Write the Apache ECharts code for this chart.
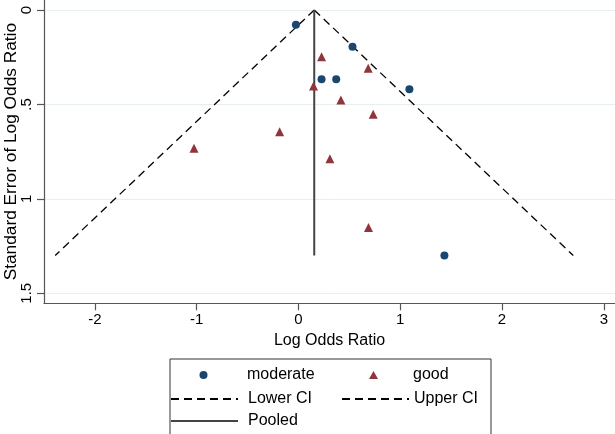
<!DOCTYPE html>
<html>
<head>
<meta charset="utf-8">
<script src="https://cdn.jsdelivr.net/npm/echarts@6/dist/echarts.min.js"></script>
<style>html,body{margin:0;padding:0;background:#fff;}#c{width:615px;height:434px;}</style>
</head>
<body>
<div id="c"></div>
<script>
// Data
var moderateLogOR = [-0.025, 0.531, 0.227, 0.371, 1.09, 1.434];
var moderateSE    = [0.078, 0.194, 0.367, 0.367, 0.42, 1.30];
var goodLogOR = [0.227, 0.685, 0.148, 0.417, 0.734, 0.309, 0.688, -0.185, -1.026];
var goodSE    = [0.247, 0.309, 0.402, 0.476, 0.552, 0.787, 1.152, 0.644, 0.732];
var pooledEstimate = 0.155;
var maxSE = 1.3;
var lowerCIEnd = -2.39;
var upperCIEnd = 2.70;
var xTicks = [-2, -1, 0, 1, 2, 3];
var yTicks = [0, 0.5, 1, 1.5];

function zip(a, b) { return a.map(function (v, i) { return [v, b[i]]; }); }

var FONT = '"Liberation Sans", Arial, Helvetica, sans-serif';
var chart = echarts.init(document.getElementById('c'), null, {renderer: 'canvas'});

function legendItem(item, left, top, iconW, iconH, textPad) {
  return {
    data: [item], left: left, top: top, padding: 0, itemWidth: iconW, itemHeight: iconH,
    selectedMode: false, orient: 'horizontal', symbolKeepAspect: true,
    textStyle: {fontFamily: FONT, fontSize: 16, color: '#000', padding: [0, 0, 0, textPad]}
  };
}
var hideSym = {opacity: 0, borderWidth: 0};

chart.setOption({
  animation: false,
  backgroundColor: '#fff',
  grid: {left: 44, right: 0, top: 0, bottom: 130.7, containLabel: false, outerBoundsMode: 'none'},
  xAxis: {
    type: 'value', min: -2.5, max: 3.11,
    name: 'Log Odds Ratio', nameLocation: 'middle', nameGap: 29, nameMoveOverlap: false,
    nameTextStyle: {fontFamily: FONT, fontSize: 16, color: '#000'},
    axisLine: {onZero: false, lineStyle: {color: '#555', width: 1.2}},
    axisTick: {show: true, length: 7, customValues: xTicks, lineStyle: {color: '#555', width: 1.2}},
    axisLabel: {customValues: xTicks, margin: 9, fontFamily: FONT, fontSize: 15, color: '#000'},
    splitLine: {show: false}
  },
  yAxis: {
    type: 'value', inverse: true, min: -0.053, max: 1.553,
    name: 'Standard Error of Log Odds Ratio', nameLocation: 'middle', nameGap: 24, nameMoveOverlap: false,
    nameTextStyle: {fontFamily: FONT, fontSize: 17.3, color: '#000'},
    axisLine: {show: true, onZero: false, lineStyle: {color: '#555', width: 1.2}},
    axisTick: {show: true, length: 7, customValues: yTicks, lineStyle: {color: '#555', width: 1.2}},
    axisLabel: {customValues: yTicks, rotate: 90, margin: 10, fontFamily: FONT, fontSize: 15, color: '#000',
      formatter: function (v) { return v === 0 ? '0' : String(v).replace(/^0\./, '.'); }},
    splitLine: {show: true, lineStyle: {color: '#e6eef0', width: 1}}
  },
  legend: [
    legendItem({name: 'moderate', icon: 'circle'}, 199.5, 367, 8, 8, 34.5),
    legendItem({name: 'good', icon: 'triangle'}, 369, 367, 9, 8, 30),
    legendItem({name: 'Lower CI', itemStyle: hideSym}, 170, 391, 67, 14, 5),
    legendItem({name: 'Upper CI', itemStyle: hideSym}, 341, 391, 67, 14, 0),
    legendItem({name: 'Pooled', itemStyle: hideSym}, 170, 413, 67, 14, 5)
  ],
  graphic: [{
    type: 'rect', left: 167.5, top: 356.5, shape: {width: 321, height: 75.5},
    style: {fill: 'none', stroke: '#333', lineWidth: 1}, silent: true
  }],
  series: [
    {name: 'moderate', type: 'scatter', symbol: 'circle', symbolSize: 8,
     itemStyle: {color: '#1a476f', opacity: 1}, data: zip(moderateLogOR, moderateSE), z: 3},
    {name: 'good', type: 'scatter', symbol: 'triangle', symbolSize: 9,
     itemStyle: {color: '#90353b', opacity: 1}, data: zip(goodLogOR, goodSE), z: 3},
    {name: 'Lower CI', type: 'line', symbol: 'none', silent: true,
     lineStyle: {color: '#000', width: 1.3, type: [8, 5]},
     itemStyle: {color: '#000'},
     data: [[pooledEstimate, 0], [lowerCIEnd, maxSE]], z: 2},
    {name: 'Upper CI', type: 'line', symbol: 'none', silent: true,
     lineStyle: {color: '#000', width: 1.3, type: [8, 5]},
     itemStyle: {color: '#000'},
     data: [[pooledEstimate, 0], [upperCIEnd, maxSE]], z: 2},
    {name: 'Pooled', type: 'line', symbol: 'none', silent: true,
     lineStyle: {color: '#444', width: 2, type: 'solid'},
     itemStyle: {color: '#444'},
     data: [[pooledEstimate, 0], [pooledEstimate, maxSE]], z: 2}
  ]
});
</script>
</body>
</html>
